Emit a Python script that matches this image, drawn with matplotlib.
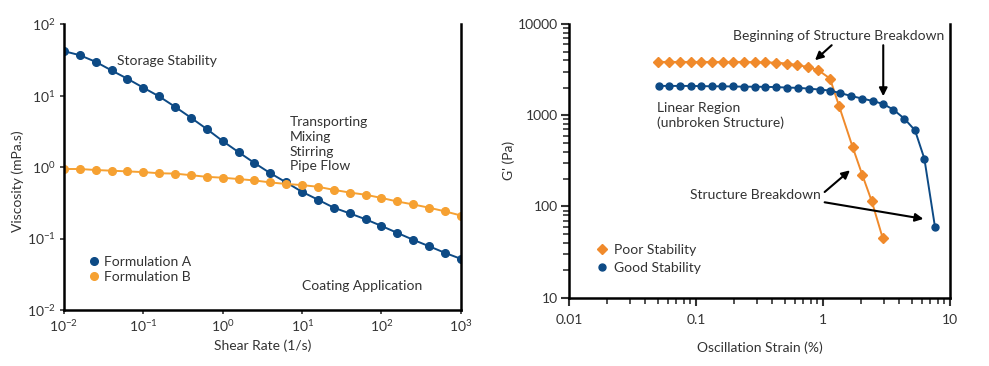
import numpy as np
import matplotlib
matplotlib.use('Agg')
import matplotlib.pyplot as plt
from matplotlib.lines import Line2D
from matplotlib.ticker import LogLocator, FixedLocator, NullFormatter

plt.rcParams['font.family'] = ['Lato', 'DejaVu Sans']
plt.rcParams['mathtext.fontset'] = 'custom'
plt.rcParams['mathtext.rm'] = 'Lato'
plt.rcParams['mathtext.default'] = 'regular'

TXT = '#333333'
BLUE = '#0d4a85'
ORANGE_L = '#f6a132'
ORANGE_R = '#f08a2b'

# left chart: viscosity vs shear rate
shear_rate = [0.01, 0.0158, 0.0251, 0.0398, 0.0631, 0.1, 0.158, 0.251, 0.398, 0.631,
              1.0, 1.58, 2.51, 3.98, 6.31, 10.0, 15.8, 25.1, 39.8, 63.1,
              100.0, 158.0, 251.0, 398.0, 631.0, 1000.0]
visc_a = [41.9, 36.8, 29.7, 22.5, 17.2, 12.9, 9.75, 6.97, 4.9, 3.4,
          2.31, 1.62, 1.14, 0.82, 0.61, 0.45, 0.35, 0.27, 0.225, 0.186,
          0.15, 0.12, 0.096, 0.078, 0.063, 0.052]
visc_b = [0.94, 0.94, 0.91, 0.89, 0.87, 0.85, 0.82, 0.81, 0.77, 0.73,
          0.71, 0.68, 0.65, 0.61, 0.58, 0.56, 0.53, 0.48, 0.44, 0.41,
          0.37, 0.33, 0.30, 0.27, 0.24, 0.21]

# right chart: G' vs oscillation strain
strain_poor = [0.0505, 0.0612, 0.0748, 0.0908, 0.109, 0.134, 0.162, 0.197, 0.239, 0.292,
               0.352, 0.427, 0.518, 0.628, 0.762, 0.918, 1.135, 1.34, 1.71, 2.04,
               2.42, 2.95]
g_poor = [3850, 3850, 3850, 3850, 3850, 3850, 3850, 3850, 3850, 3820,
          3800, 3780, 3700, 3550, 3390, 3125, 2530, 1256, 449, 221,
          114, 45]
strain_good = [0.0512, 0.0615, 0.0748, 0.0908, 0.109, 0.133, 0.161, 0.197, 0.239, 0.290,
               0.352, 0.427, 0.518, 0.64, 0.78, 0.94, 1.13, 1.36, 1.66, 2.04,
               2.46, 2.98, 3.58, 4.37, 5.3, 6.28, 7.62]
g_good = [2100, 2100, 2100, 2100, 2090, 2080, 2080, 2070, 2060, 2060,
          2050, 2040, 2015, 2000, 1960, 1915, 1870, 1757, 1630, 1525,
          1436, 1330, 1154, 918, 684, 334, 59]

fig = plt.figure(figsize=(9.89, 3.66), dpi=100)

# ---- left ----
ax1 = fig.add_axes([0.0647, 0.153, 0.4013, 0.781])
ax1.plot(shear_rate, visc_a, '-o', color=BLUE, ms=5.5, lw=1.4)
ax1.plot(shear_rate, visc_b, '-o', color=ORANGE_L, ms=5.5, lw=1.4)
ax1.set_xscale('log')
ax1.set_yscale('log')
ax1.set_xlim(1e-2, 1e3)
ax1.set_ylim(1e-2, 1e2)
ax1.spines['top'].set_visible(False)
for s in ['left', 'bottom', 'right']:
    ax1.spines[s].set_linewidth(1.8)
ax1.xaxis.set_major_locator(FixedLocator([1e-2, 1e-1, 1, 10, 100, 1000]))
ax1.yaxis.set_major_locator(FixedLocator([1e-2, 1e-1, 1, 10, 100]))
ax1.xaxis.set_minor_locator(FixedLocator([]))
ax1.yaxis.set_minor_locator(FixedLocator([]))
ax1.set_xticklabels(['$10^{-2}$', '$10^{-1}$', '$10^{0}$', '$10^{1}$', '$10^{2}$', '$10^{3}$'])
ax1.set_yticklabels(['$10^{-2}$', '$10^{-1}$', '$10^{0}$', '$10^{1}$', '$10^{2}$'])
ax1.tick_params(length=3, width=1.2, colors=TXT, labelsize=10, pad=3)
ax1.set_xlabel('Shear Rate (1/s)', color=TXT, fontsize=10, labelpad=4)
ax1.set_ylabel('Viscosity (mPa.s)', color=TXT, fontsize=10)
ax1.yaxis.set_label_coords(-0.10, 0.45)
ax1.text(0.0465, 31, 'Storage Stability', color=TXT, fontsize=10, va='center')
ax1.text(7.0, 2.08, 'Transporting\nMixing\nStirring\nPipe Flow', color=TXT, fontsize=10,
         va='center', linespacing=1.26)
ax1.text(9.9, 0.0217, 'Coating Application', color=TXT, fontsize=10, va='center')
h1 = [Line2D([], [], ls='none', marker='o', color=BLUE, ms=5.5),
      Line2D([], [], ls='none', marker='o', color=ORANGE_L, ms=5.5)]
ax1.legend(h1, ['Formulation A', 'Formulation B'], loc='lower left',
           bbox_to_anchor=(0.05, 0.075), frameon=False, fontsize=10,
           handlelength=0.6, handletextpad=0.45, labelspacing=0.2, labelcolor=TXT,
           borderaxespad=0)

# ---- right ----
ax2 = fig.add_axes([0.5753, 0.187, 0.3853, 0.747])
ax2.plot(strain_poor, g_poor, '-D', color=ORANGE_R, ms=5, lw=1.4)
ax2.plot(strain_good, g_good, '-o', color=BLUE, ms=5, lw=1.4)
ax2.set_xscale('log')
ax2.set_yscale('log')
ax2.set_xlim(0.01, 10)
ax2.set_ylim(10, 10000)
ax2.spines['top'].set_visible(False)
for s in ['left', 'bottom', 'right']:
    ax2.spines[s].set_linewidth(1.8)
ax2.xaxis.set_major_locator(FixedLocator([0.01, 0.1, 1, 10]))
ax2.yaxis.set_major_locator(FixedLocator([10, 100, 1000, 10000]))
ax2.xaxis.set_minor_locator(LogLocator(base=10, subs=np.arange(2, 10)))
ax2.yaxis.set_minor_locator(LogLocator(base=10, subs=np.arange(2, 10)))
ax2.xaxis.set_minor_formatter(NullFormatter())
ax2.yaxis.set_minor_formatter(NullFormatter())
ax2.set_xticklabels(['0.01', '0.1', '1', '10'])
ax2.set_yticklabels(['10', '100', '1000', '10000'])
ax2.tick_params(which='major', length=6, width=1.5, colors=TXT, labelsize=10)
ax2.tick_params(which='minor', length=4, width=1.2, colors=TXT)
ax2.tick_params(axis='x', which='major', pad=6)
ax2.tick_params(axis='y', which='major', pad=2)
ax2.set_xlabel('Oscillation Strain (%)', color=TXT, fontsize=10, labelpad=11)
ax2.set_ylabel("G' (Pa)", color=TXT, fontsize=10, labelpad=2)
ax2.text(1.33, 7400, 'Beginning of Structure Breakdown', color=TXT, fontsize=10,
         ha='center', va='center')
ax2.text(0.049, 1000, 'Linear Region\n(unbroken Structure)', color=TXT, fontsize=10,
         va='center', linespacing=1.2)
ax2.text(0.09, 135, 'Structure Breakdown', color=TXT, fontsize=10, va='center')
arw = dict(arrowstyle='-|>', color='black', lw=1.5, mutation_scale=12, shrinkA=0, shrinkB=0)
ax2.annotate('', xy=(0.865, 4020), xytext=(1.17, 5875), arrowprops=arw)
ax2.annotate('', xy=(2.98, 1618), xytext=(2.98, 5875), arrowprops=arw)
ax2.annotate('', xy=(1.63, 249), xytext=(1.03, 144), arrowprops=arw)
ax2.annotate('', xy=(6.17, 73), xytext=(1.03, 111), arrowprops=arw)
h2 = [Line2D([], [], ls='none', marker='D', color=ORANGE_R, ms=5),
      Line2D([], [], ls='none', marker='o', color=BLUE, ms=5)]
ax2.legend(h2, ['Poor Stability', 'Good Stability'], loc='lower left',
           bbox_to_anchor=(0.06, 0.065), frameon=False, fontsize=10,
           handlelength=0.6, handletextpad=0.6, labelspacing=0.45, labelcolor=TXT,
           borderaxespad=0)

fig.savefig('out.png', dpi=100)
